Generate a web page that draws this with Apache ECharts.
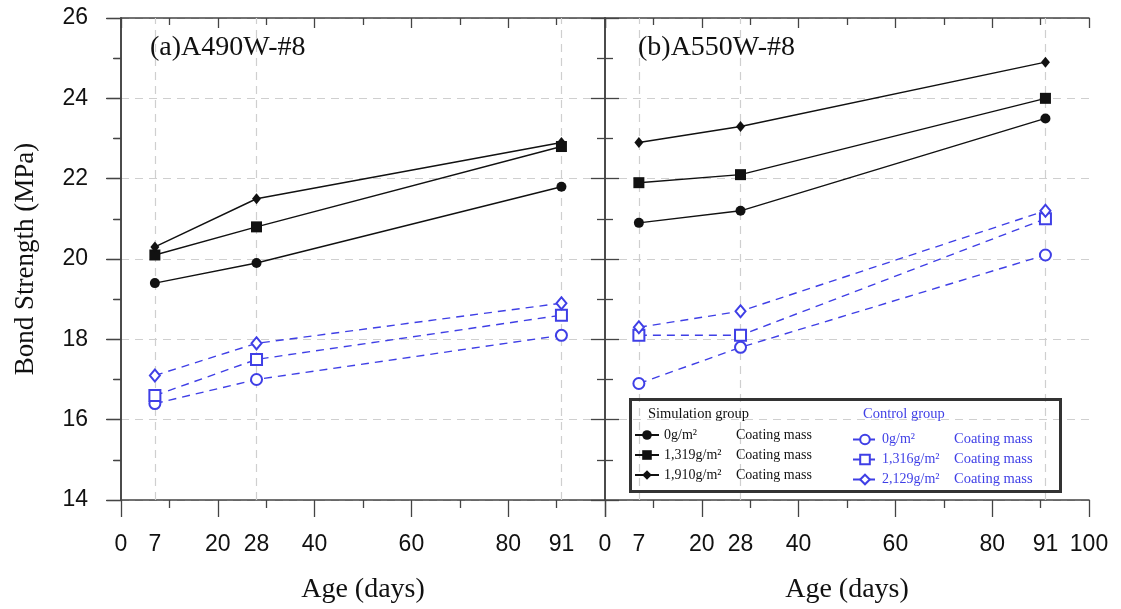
<!DOCTYPE html>
<html>
<head>
<meta charset="utf-8">
<script src="https://cdn.jsdelivr.net/npm/echarts@6/dist/echarts.min.js"></script>
<style>
html,body{margin:0;padding:0;background:#fff;}
#chart{width:1121px;height:609px;}
</style>
</head>
<body>
<div id="chart"></div>
<script>
// ---- data ----
var ages = [7, 28, 91];
var xTickLabelsA = [0, 7, 20, 28, 40, 60, 80, 91];
var xTickLabelsB = [0, 7, 20, 28, 40, 60, 80, 91, 100];
var panelTitles = ['(a)A490W-#8', '(b)A550W-#8'];
var simLabels = ['0g/m\u00B2', '1,319g/m\u00B2', '1,910g/m\u00B2'];
var ctrlLabels = ['0g/m\u00B2', '1,316g/m\u00B2', '2,129g/m\u00B2'];
// panel (a)
var aSim0 = [19.4, 19.9, 21.8];
var aSim1319 = [20.1, 20.8, 22.8];
var aSim1910 = [20.3, 21.5, 22.9];
var aCtl0 = [16.4, 17.0, 18.1];
var aCtl1316 = [16.6, 17.5, 18.6];
var aCtl2129 = [17.1, 17.9, 18.9];
// panel (b)
var bSim0 = [20.9, 21.2, 23.5];
var bSim1319 = [21.9, 22.1, 24.0];
var bSim1910 = [22.9, 23.3, 24.9];
var bCtl0 = [16.9, 17.8, 20.1];
var bCtl1316 = [18.1, 18.1, 21.0];
var bCtl2129 = [18.3, 18.7, 21.2];

// ---- styles ----
var SERIF = 'Liberation Serif';
var SANS = 'Liberation Sans';
var BLACK = '#111';
var BLUE = '#3f3fe6';
var AXC = '#444';
var GRIDC = '#cfcfcf';

var simNames = simLabels.map(function (l) { return 'Simulation group ' + l; });
var ctrlNames = ctrlLabels.map(function (l) { return 'Control group ' + l; });

function pairs(vals) { return ages.map(function (a, i) { return [a, vals[i]]; }); }

var axisLine = { show: true, lineStyle: { color: AXC, width: 1.6 } };
var tickLS = { color: AXC, width: 1.3 };

function xAxes(g, labels) {
  return [
    {
      gridIndex: g, type: 'value', min: 0, max: 100, interval: 20, position: 'bottom',
      axisLine: axisLine,
      axisTick: { show: true, inside: false, length: 17, lineStyle: tickLS },
      minorTick: { show: true, splitNumber: 2, length: 8, lineStyle: tickLS },
      axisLabel: { customValues: labels, margin: 33, fontSize: 23, fontFamily: SANS, color: BLACK },
      splitLine: { show: false },
      name: 'Age (days)', nameLocation: 'middle', nameGap: 76,
      nameTextStyle: { fontFamily: SERIF, fontSize: 28, color: BLACK }
    },
    {
      gridIndex: g, type: 'value', min: 0, max: 100, interval: 20, position: 'top',
      axisLine: axisLine,
      axisTick: { show: true, inside: true, length: 10, lineStyle: tickLS },
      minorTick: { show: true, splitNumber: 2, length: 7, lineStyle: tickLS },
      axisLabel: { show: false },
      splitLine: { show: false }
    }
  ];
}

function yAxes(g, showLabels) {
  return [
    {
      gridIndex: g, type: 'value', min: 14, max: 26, interval: 2, position: 'left',
      axisLine: axisLine,
      axisTick: { show: true, inside: !showLabels, length: showLabels ? 15 : 14, lineStyle: tickLS },
      minorTick: { show: true, splitNumber: 2, length: showLabels ? 7 : 8, lineStyle: tickLS },
      axisLabel: { show: showLabels, margin: 33, fontSize: 23, fontFamily: SANS, color: BLACK },
      splitLine: { show: true, lineStyle: { color: GRIDC, width: 1.2, type: [8, 6] } },
      name: showLabels ? 'Bond Strength (MPa)' : '', nameLocation: 'middle', nameGap: 82,
      nameTextStyle: { fontFamily: SERIF, fontSize: 27, color: BLACK }
    },
    {
      gridIndex: g, type: 'value', min: 14, max: 26, interval: 2, position: 'right',
      axisLine: axisLine,
      axisTick: { show: true, inside: true, length: 14, lineStyle: tickLS },
      minorTick: { show: true, splitNumber: 2, length: 8, lineStyle: tickLS },
      axisLabel: { show: false },
      splitLine: { show: false }
    }
  ];
}

function panelSeries(g, sims, ctls) {
  var xi = g * 2, yi = g * 2;
  var simSym = ['circle', 'rect', 'diamond'];
  var simSize = [10, 11, [9, 11]];
  var ctlSym = ['emptyCircle', 'emptyRect', 'emptyDiamond'];
  var ctlSize = [11, 11, [10, 12]];
  var out = [];
  sims.forEach(function (vals, i) {
    var s = {
      type: 'line', name: simNames[i], xAxisIndex: xi, yAxisIndex: yi,
      data: pairs(vals), symbol: simSym[i], symbolSize: simSize[i],
      lineStyle: { color: BLACK, width: 1.4 }, itemStyle: { color: BLACK },
      z: 5
    };
    if (i === 0) {
      s.markLine = {
        silent: true, symbol: ['none', 'none'], label: { show: false },
        lineStyle: { color: GRIDC, width: 1.2, type: [8, 6] },
        data: ages.map(function (a) { return { xAxis: a }; }),
        z: 1
      };
    }
    out.push(s);
  });
  ctls.forEach(function (vals, i) {
    out.push({
      type: 'line', name: ctrlNames[i], xAxisIndex: xi, yAxisIndex: yi,
      data: pairs(vals), symbol: ctlSym[i], symbolSize: ctlSize[i],
      lineStyle: { color: BLUE, width: 1.4, type: [8, 6] },
      itemStyle: { color: BLUE, borderWidth: 1.2 },
      z: 4
    });
  });
  return out;
}

var legendCommon = {
  orient: 'vertical', itemWidth: 24, itemHeight: 12, itemGap: 6,
  selectedMode: false, padding: 0
};

var option = {
  animation: false,
  backgroundColor: '#fff',
  grid: [
    { left: 121, right: 1121 - 605, top: 18, bottom: 609 - 502, containLabel: false },
    { left: 605, right: 1121 - 1089, top: 18, bottom: 609 - 502, containLabel: false }
  ],
  title: [
    { text: panelTitles[0], left: 150, top: 34, padding: 0,
      textStyle: { fontFamily: SERIF, fontSize: 28, fontWeight: 'normal', color: BLACK } },
    { text: panelTitles[1], left: 638, top: 34, padding: 0,
      textStyle: { fontFamily: SERIF, fontSize: 28, fontWeight: 'normal', color: BLACK } }
  ],
  xAxis: xAxes(0, xTickLabelsA).concat(xAxes(1, xTickLabelsB)),
  yAxis: yAxes(0, true).concat(yAxes(1, false)),
  legend: [
    Object.assign({}, legendCommon, {
      left: 634, top: 428, data: simNames,
      formatter: function (n) { return '{a|' + simLabels[simNames.indexOf(n)] + '}{b|Coating mass}'; },
      textStyle: { rich: {
        a: { width: 72, fontFamily: SERIF, fontSize: 14, color: BLACK },
        b: { fontFamily: SERIF, fontSize: 14, color: BLACK }
      } }
    }),
    Object.assign({}, legendCommon, {
      left: 852, top: 432, data: ctrlNames, itemGap: 5,
      formatter: function (n) { return '{a|' + ctrlLabels[ctrlNames.indexOf(n)] + '}{b|Coating mass}'; },
      textStyle: { rich: {
        a: { width: 72, fontFamily: SERIF, fontSize: 14, color: BLUE },
        b: { fontFamily: SERIF, fontSize: 14.5, color: BLUE }
      } }
    })
  ],
  graphic: [
    { type: 'rect', left: 628, top: 397, shape: { width: 430, height: 92 },
      style: { fill: 'none', stroke: '#333', lineWidth: 3 }, z: 50 },
    { type: 'text', left: 648, top: 407,
      style: { text: 'Simulation group', fontFamily: SERIF, fontSize: 14.5, fill: BLACK }, z: 50 },
    { type: 'text', left: 863, top: 407,
      style: { text: 'Control group', fontFamily: SERIF, fontSize: 14.5, fill: BLUE }, z: 50 }
  ],
  series: panelSeries(0, [aSim0, aSim1319, aSim1910], [aCtl0, aCtl1316, aCtl2129])
    .concat(panelSeries(1, [bSim0, bSim1319, bSim1910], [bCtl0, bCtl1316, bCtl2129]))
};

var chart = echarts.init(document.getElementById('chart'), null, { renderer: 'canvas' });
chart.setOption(option);
</script>
</body>
</html>
